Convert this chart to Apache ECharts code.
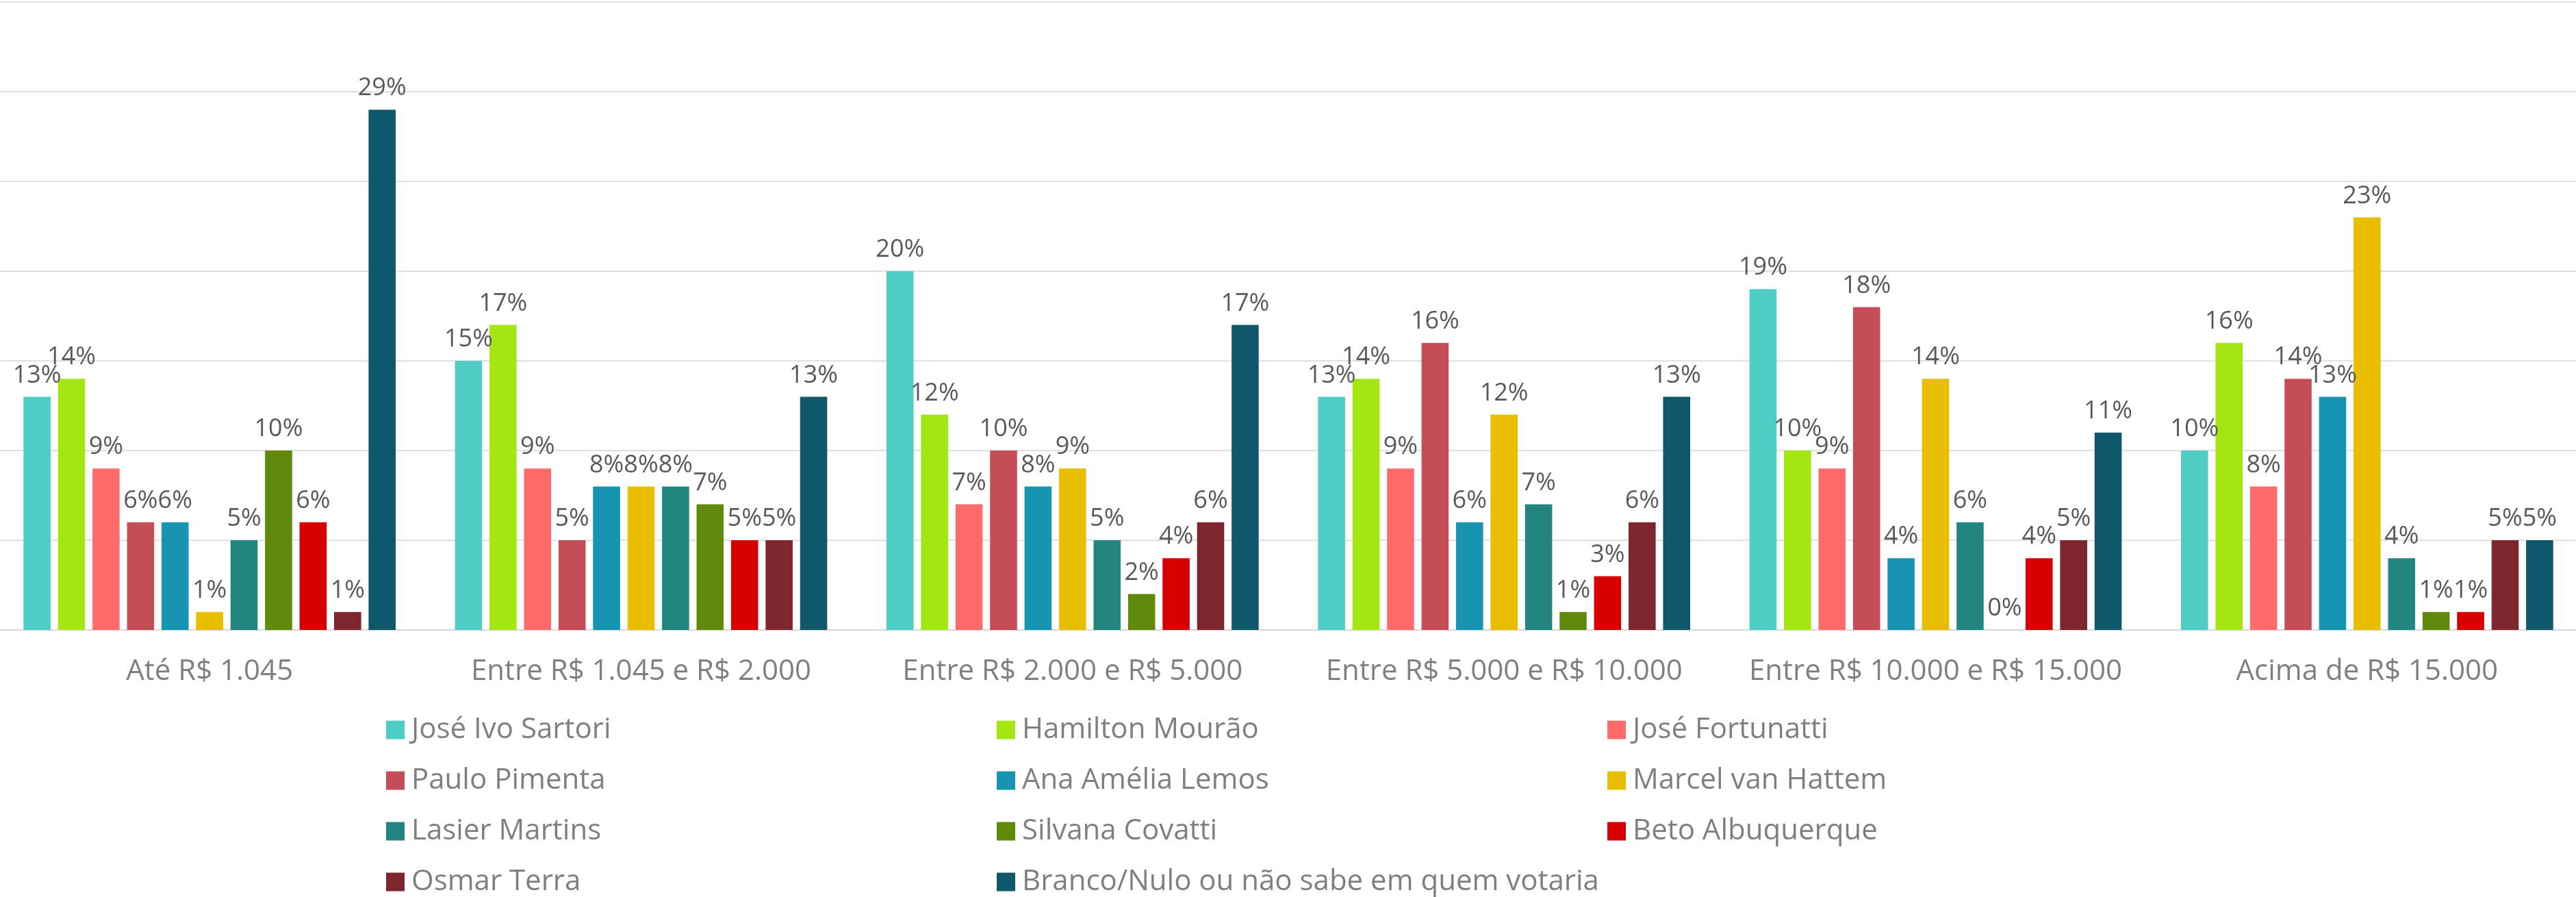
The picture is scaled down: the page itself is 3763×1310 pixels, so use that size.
<!DOCTYPE html>
<html>
<head>
<meta charset="utf-8">
<script src="https://cdn.jsdelivr.net/npm/echarts@6/dist/echarts.min.js"></script>
<style>
  html, body { margin: 0; padding: 0; background: #fff; }
  #chart { width: 3763px; height: 1310px; }
</style>
</head>
<body>
<div id="chart"></div>
<script>
// faixas de renda (categorias)
const faixas = [
  'Até R$ 1.045',
  'Entre R$ 1.045 e R$ 2.000',
  'Entre R$ 2.000 e R$ 5.000',
  'Entre R$ 5.000 e R$ 10.000',
  'Entre R$ 10.000 e R$ 15.000',
  'Acima de R$ 15.000'
];

// valores (%) por candidato, na ordem das faixas
const sartori     = [13, 15, 20, 13, 19, 10];
const mourao      = [14, 17, 12, 14, 10, 16];
const fortunatti  = [9, 9, 7, 9, 9, 8];
const pimenta     = [6, 5, 10, 16, 18, 14];
const anaAmelia   = [6, 8, 8, 6, 4, 13];
const vanHattem   = [1, 8, 9, 12, 14, 23];
const lasier      = [5, 8, 5, 7, 6, 4];
const covatti     = [10, 7, 2, 1, 0, 1];
const beto        = [6, 5, 4, 3, 4, 1];
const osmar       = [1, 5, 6, 6, 5, 5];
const brancoNulo  = [29, 13, 17, 13, 11, 5];

const nomes = [
  'José Ivo Sartori', 'Hamilton Mourão', 'José Fortunatti',
  'Paulo Pimenta', 'Ana Amélia Lemos', 'Marcel van Hattem',
  'Lasier Martins', 'Silvana Covatti', 'Beto Albuquerque',
  'Osmar Terra', 'Branco/Nulo ou não sabe em quem votaria'
];
const valores = [sartori, mourao, fortunatti, pimenta, anaAmelia, vanHattem,
                 lasier, covatti, beto, osmar, brancoNulo];
const cores = ['#4ECDC4', '#A4E611', '#FF6B6B', '#C44D58', '#1893B2', '#E9BD00',
               '#238580', '#61890C', '#D60000', '#7D262E', '#0F586C'];

const chart = echarts.init(document.getElementById('chart'));

const series = nomes.map((nome, i) => ({
  name: nome,
  type: 'bar',
  data: valores[i],
  itemStyle: { color: cores[i] },
  barWidth: 39.6,
  barGap: '27.3%',
  label: {
    show: true,
    position: 'top',
    distance: 13,
    formatter: '{c}%',
    color: '#595959',
    fontSize: 36,
    fontFamily: 'Open Sans'
  }
}));

chart.setOption({
  animation: false,
  textStyle: { fontFamily: 'Open Sans' },
  grid: {
    left: -9,
    right: -10,
    top: 3,
    bottom: 390,
    outerBoundsMode: 'none',
    containLabel: false
  },
  legend: {
    left: 559,
    top: 1024,
    width: 2680,
    itemWidth: 27,
    itemHeight: 27,
    itemGap: 0,
    icon: 'rect',
    textStyle: {
      color: '#7F7F7F',
      fontSize: 42,
      width: 855,
      lineHeight: 74,
      padding: [0, 0, 0, 5]
    }
  },
  xAxis: {
    type: 'category',
    data: faixas,
    axisLine: { lineStyle: { color: '#D9D9D9', width: 2 } },
    axisTick: { show: false },
    axisLabel: {
      interval: 0,
      hideOverlap: false,
      color: '#7F7F7F',
      fontSize: 42,
      margin: 40
    }
  },
  yAxis: {
    type: 'value',
    min: 0,
    max: 35,
    interval: 5,
    axisLabel: { show: false },
    axisLine: { show: false },
    axisTick: { show: false },
    splitLine: { lineStyle: { color: '#E0E0E0', width: 2 } }
  },
  series: series
});
</script>
</body>
</html>
